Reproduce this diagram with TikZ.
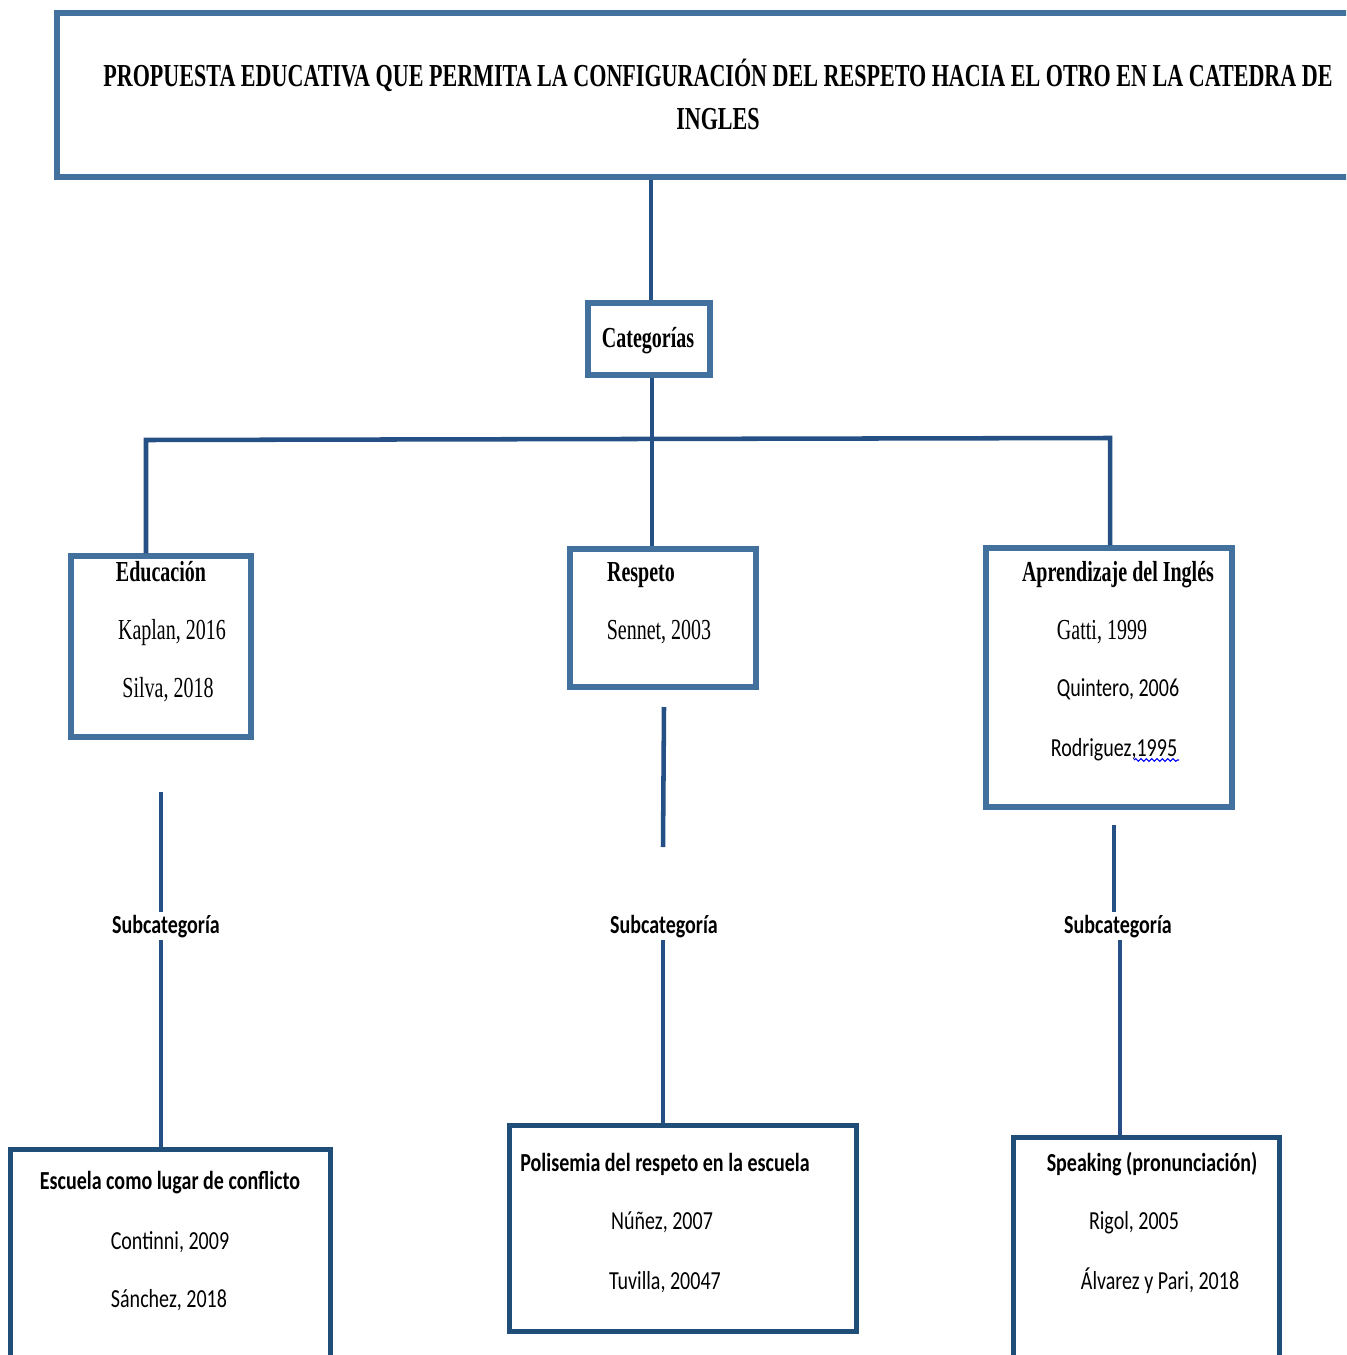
\documentclass[tikz,border=0pt]{standalone}
\usepackage{fontspec}
\setmainfont{Liberation Serif}[FakeStretch=0.77]
\newfontfamily\serifc{Liberation Serif}[FakeStretch=0.69]
\newfontfamily\calfont{Carlito}[FakeStretch=0.77]
\usetikzlibrary{fit,decorations.pathmorphing}
\definecolor{boxblue}{RGB}{65,113,156}
\definecolor{darkbox}{RGB}{31,78,121}
\definecolor{linkblue}{RGB}{37,80,133}
\tikzset{
  frame/.style={draw=boxblue, line width=4pt, inner sep=0pt},
  lowframe/.style={draw=darkbox, line width=3.75pt, inner sep=0pt},
  link/.style={draw=linkblue, line width=3.4pt},
  serif/.style={font=\serifc\fontsize{21.75}{26}\selectfont, inner sep=2pt, anchor=base},
  serifb/.style={font=\serifc\fontsize{21.75}{26}\selectfont\bfseries, inner sep=2pt, anchor=base},
  cal/.style={font=\calfont\fontsize{19.5}{24}\selectfont, inner sep=2pt, anchor=base},
  calb/.style={font=\calfont\fontsize{19.5}{24}\selectfont\bfseries, inner sep=2pt, anchor=base},
}
\begin{document}
\begin{tikzpicture}[x=0.75pt,y=-0.75pt]
\useasboundingbox (0,0) rectangle (1346,1355);
\fill[white] (0,0) rectangle (1346,1355);
\clip (0,0) rectangle (1346,1355);

% boxes
\node[frame, fit={(57,13) (1370,177)}] (title) {};
\node[frame, fit={(588,303) (710,375)}] (cat) {};
\node[frame, fit={(71,556) (251,737)}] (edu) {};
\node[frame, fit={(570,549) (756,687)}] (resp) {};
\node[frame, fit={(986,548) (1232,807)}] (apr) {};
\node[lowframe, fit={(10,1149) (330,1380)}] (esc) {};
\node[lowframe, fit={(509,1125) (856,1331)}] (pol) {};
\node[lowframe, fit={(1013,1137) (1279,1380)}] (spk) {};

% texts
\node[font=\serifc\fontsize{24}{32.25}\selectfont\bfseries, align=center, inner sep=0pt, anchor=base] (ttext) at (718,130)
  {PROPUESTA EDUCATIVA QUE PERMITA LA CONFIGURACIÓN DEL RESPETO HACIA EL OTRO EN LA CATEDRA DE\\INGLES};
\node[serifb] (cattext) at (648,347) {Categorías};

\node[serifb] (edut) at (161,581) {Educación};
\node[serif] (edu1) at (172,639) {Kaplan, 2016};
\node[serif] (edu2) at (168,697) {Silva, 2018};

\node[serifb] (respt) at (641,581) {Respeto};
\node[serif] (resp1) at (659,639) {Sennet, 2003};

\node[serifb] (aprt) at (1118,581) {Aprendizaje del Inglés};
\node[serif] (apr1) at (1102,639) {Gatti, 1999};
\node[cal] (apr2) at (1118,696) {Quintero, 2006};
\node[cal] (apr3) at (1114,756) {Rodriguez,1995};
\draw[blue, line width=0.8pt, decorate, decoration={snake, amplitude=1pt, segment length=4pt}] (1134,760) -- (1179,760);

\node[calb] (sub1) at (166,933) {Subcategoría};
\node[calb] (sub2) at (664,933) {Subcategoría};
\node[calb] (sub3) at (1118,933) {Subcategoría};

\node[calb] (esct) at (170,1189) {Escuela como lugar de conflicto};
\node[cal] (esc1) at (170,1249) {Continni, 2009};
\node[cal] (esc2) at (169,1307) {Sánchez, 2018};

\node[calb] (polt) at (665,1171) {Polisemia del respeto en la escuela};
\node[cal] (pol1) at (662,1229) {Núñez, 2007};
\node[cal] (pol2) at (665,1289) {Tuvilla, 20047};

\node[calb] (spkt) at (1152,1171) {Speaking (pronunciación)};
\node[cal] (spk1) at (1134,1229) {Rigol, 2005};
\node[cal] (spk2) at (1160,1289) {Álvarez y Pari, 2018};

% connectors
\coordinate (ct) at (651,177);
\draw[link] (ct |- title.south) -- (ct |- cat.north);
\coordinate (cb) at (652,375);
\draw[link] (cb |- cat.south) -- (cb |- resp.north);
\coordinate (jl) at (146,440);
\coordinate (jr) at (1110,438);
\draw[link] (jl |- edu.north) -- (jl) -- (jr) -- (jr |- apr.north);

\coordinate (e1) at (161,792);
\draw[link] (e1) -- (e1 |- sub1.north);
\draw[link] (e1 |- sub1.south) -- (e1 |- esc.north);

\coordinate (r1) at (664,707);
\coordinate (r2) at (663,847);
\draw[link] (r1) -- (r2);
\draw[link] (r2 |- sub2.south) -- (r2 |- pol.north);

\coordinate (a1) at (1114,825);
\draw[link] (a1) -- (a1 |- sub3.north);
\coordinate (a2) at (1120,943);
\draw[link] (a2 |- sub3.south) -- (a2 |- spk.north);
\end{tikzpicture}
\end{document}
